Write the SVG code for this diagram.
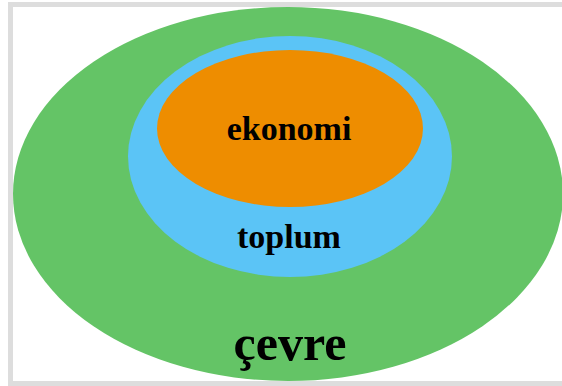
<svg xmlns="http://www.w3.org/2000/svg" width="562" height="386" viewBox="0 0 562 386">
<style>
.lbl{font-family:"Liberation Serif","Times New Roman",serif;font-weight:bold;fill:#000;text-anchor:middle}
</style>
<rect x="0" y="0" width="562" height="386" fill="#fff"/>
<rect x="10.5" y="4.5" width="560" height="379" fill="#fff" stroke="#dddddd" stroke-width="5"/>
<g id="cevre">
<ellipse cx="288" cy="194" rx="275" ry="187" fill="#64c466"/>
<text class="lbl" x="290" y="360" font-size="50">çevre</text>
</g>
<g id="toplum">
<ellipse cx="290" cy="156.5" rx="162" ry="120.5" fill="#5bc4f6"/>
<text class="lbl" x="289" y="248" font-size="34">toplum</text>
</g>
<g id="ekonomi">
<ellipse cx="290" cy="128.5" rx="133" ry="78.5" fill="#ee8d00"/>
<text class="lbl" x="289" y="140" font-size="34">ekonomi</text>
</g>
<g id="connectors"/>
</svg>
